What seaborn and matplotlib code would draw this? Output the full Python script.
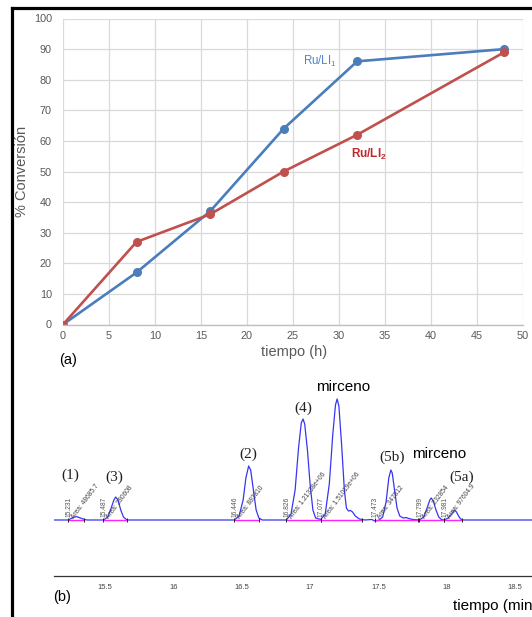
import matplotlib
matplotlib.use("Agg")
import matplotlib.pyplot as plt
import seaborn as sns
import pandas as pd
from matplotlib.lines import Line2D

# ---------------- data: panel (a) ----------------
tiempo_h = [0, 8, 16, 24, 32, 48]
conv_ru_li1 = [0, 17, 37, 64, 86, 90]
conv_ru_li2 = [0, 27, 36, 50, 62, 89]
series_names = ["Ru/LI1", "Ru/LI2"]
x_ticks_a = [0, 5, 10, 15, 20, 25, 30, 35, 40, 45, 50]
y_ticks_a = [0, 10, 20, 30, 40, 50, 60, 70, 80, 90, 100]

# ---------------- data: panel (b) chromatogram trace ----------------
crom_t = [15.127, 15.23, 15.26, 15.29, 15.32, 15.35, 15.37,
          15.49, 15.52, 15.545, 15.565, 15.578, 15.595, 15.615, 15.635, 15.66,
          16.446, 16.48, 16.51, 16.53, 16.55, 16.565, 16.585, 16.605, 16.625, 16.65,
          16.826, 16.86, 16.89, 16.915, 16.935, 16.948, 16.96, 16.98, 17.0, 17.02, 17.04, 17.077,
          17.11, 17.14, 17.165, 17.185, 17.197, 17.21, 17.23, 17.25, 17.265, 17.28, 17.295, 17.31, 17.33, 17.36, 17.40,
          17.45, 17.473, 17.50, 17.53, 17.555, 17.575, 17.59, 17.60, 17.615, 17.635, 17.655, 17.68, 17.70, 17.72, 17.75, 17.80,
          17.83, 17.855, 17.875, 17.885, 17.90, 17.92, 17.94, 17.96, 17.98,
          18.01, 18.035, 18.055, 18.07, 18.085, 18.10, 18.12, 18.622]
crom_s = [0, 0, 2, 3.5, 2, 0.5, 0,
          0, 3, 12, 20, 23, 20, 10, 3, 0,
          0, 4, 20, 42, 54, 50, 30, 10, 2, 0,
          0, 6, 30, 72, 97, 101, 96, 70, 35, 10, 2, 0.5,
          6, 36, 85, 115, 121, 114, 75, 30, 12, 9, 9.5, 8, 4, 1, 0,
          0.5, -1, -0.5, 3, 18, 42, 50, 47, 32, 12, 4, 2, 2.5, 1.5, 0.5, 0,
          3, 12, 20, 22, 19, 10, 3, 0.5, 0,
          2, 6, 10, 8, 4, 1, 0, 0]

integ_start = [15.231, 15.487, 16.446, 16.826, 17.077, 17.473, 17.799, 17.981]
integ_end = [15.35, 15.66, 16.625, 17.077, 17.38, 17.79, 17.981, 18.11]
rt_labels = ["15.231", "15.487", "16.446", "16.826", "17.077", "17.473", "17.799", "17.981"]
area_labels = ["Area: 48685.7", "Area: 280608", "Area: 883810", "Area: 1.21338e+06",
               "Area: 1.51019e+06", "Area: 347812", "Area: 232854", "Area: 97604.9"]

peak_names = ["(1)", "(3)", "(2)", "(4)", "mirceno", "(5b)", "mirceno", "(5a)"]
peak_name_t = [15.244, 15.569, 16.545, 16.947, 17.24, 17.598, 17.945, 18.11]
peak_name_s = [45, 43, 66, 112, 133, 63, 66, 43]
x_ticks_b = [15.5, 16, 16.5, 17, 17.5, 18, 18.5]
x_ticklabels_b = ["15.5", "16", "16.5", "17", "17.5", "18", "18.5"]

# ---------------- style ----------------
sns.set_style("white")
plt.rcParams["font.family"] = ["Liberation Sans", "DejaVu Sans"]
plt.rcParams["mathtext.fontset"] = "custom"
plt.rcParams["mathtext.rm"] = "Liberation Sans"
plt.rcParams["mathtext.bf"] = "Liberation Sans:bold"

W, H = 532, 617
fig = plt.figure(figsize=(W / 100, H / 100), dpi=100)
fig.patch.set_facecolor("white")

# ---------------- panel (a) ----------------
ax_a = fig.add_axes([63 / W, 1 - 324.5 / H, (522.7 - 63) / W, (324.5 - 18.5) / H])
df = pd.DataFrame({
    "tiempo": tiempo_h * 2,
    "conv": conv_ru_li1 + conv_ru_li2,
    "serie": [series_names[0]] * len(tiempo_h) + [series_names[1]] * len(tiempo_h),
})
pal = {series_names[0]: "#4A7EBB", series_names[1]: "#C0504D"}
sns.lineplot(data=df, x="tiempo", y="conv", hue="serie", palette=pal, marker="o",
             markersize=6.5, markeredgewidth=0, linewidth=1.9, legend=False, ax=ax_a,
             estimator=None, sort=False)
ax_a.set_xlim(0, 50)
ax_a.set_ylim(0, 100)
ax_a.set_xticks(x_ticks_a)
ax_a.set_yticks(y_ticks_a)
ax_a.grid(True, color="#D9D9D9", linewidth=0.9)
ax_a.set_axisbelow(True)
for s in ["left", "right", "top"]:
    ax_a.spines[s].set_visible(False)
ax_a.spines["bottom"].set_color("#BFBFBF")
ax_a.spines["bottom"].set_linewidth(1.0)
ax_a.tick_params(axis="both", length=0, labelsize=7.8, labelcolor="#595959")
ax_a.tick_params(axis="y", pad=8)
ax_a.tick_params(axis="x", pad=4.5)
ax_a.set_xlabel("")
ax_a.set_ylabel("")
ax_a.text((22 - 63) / 460, 0.5, "% Conversión", transform=ax_a.transAxes, rotation=90,
          ha="center", va="center", fontsize=10.5, color="#595959")
ax_a.text(0.502, -0.089, "tiempo (h)", transform=ax_a.transAxes, ha="center", va="center",
          fontsize=10.5, color="#595959")
ax_a.text(27.9, 86, r"Ru/LI$_1$", ha="center", va="center", fontsize=8.3, color="#4A86C8")
ax_a.text(33.3, 55.6, r"Ru/LI$_\mathbf{2}$", ha="center", va="center", fontsize=8.5,
          color="#C0282D", fontweight="bold")
fig.text(68 / W, 1 - 359.5 / H, "(a)", ha="center", va="center", fontsize=10.5, color="black")

# ---------------- panel (b) ----------------
ax_b = fig.add_axes([54 / W, 1 - 576 / H, (W - 54) / W, (576 - 370) / H])
sns.lineplot(x=crom_t, y=crom_s, ax=ax_b, color="#3636F2", linewidth=0.9,
             estimator=None, sort=False)
for t0, t1 in zip(integ_start, integ_end):
    ax_b.plot([t0, t1], [0.3, 0.3], color="#FF22FF", linewidth=1.0, zorder=3)
    ax_b.plot([t0, t1], [0.3, 0.3], linestyle="none", marker="|", markersize=3,
              color="#222222", markeredgewidth=0.7, zorder=4)
for t0, rt, ar in zip(integ_start, rt_labels, area_labels):
    ax_b.text(t0 + 0.004, 3, rt, rotation=90, rotation_mode="anchor", ha="left", va="center",
              fontsize=4.8, color="#555555")
    ax_b.text(t0 + 0.03, 1.5, ar, rotation=53, rotation_mode="anchor", ha="left", va="center",
              fontsize=4.8, color="#444444")
for nm, t, s in zip(peak_names, peak_name_t, peak_name_s):
    if nm == "mirceno":
        ax_b.text(t, s, nm, ha="center", va="center", fontsize=11, color="black")
    else:
        ax_b.text(t, s, nm, ha="center", va="center", fontsize=11, color="#222222",
                  family=["Liberation Serif", "DejaVu Serif"])
ax_b.set_xlim(15.127, 18.622)
ax_b.set_ylim(-56, 150)
for s in ["left", "right", "top"]:
    ax_b.spines[s].set_visible(False)
ax_b.spines["bottom"].set_color("#333333")
ax_b.spines["bottom"].set_linewidth(0.9)
ax_b.set_yticks([])
ax_b.set_xticks(x_ticks_b)
ax_b.set_xticklabels(x_ticklabels_b)
ax_b.set_xticks([15.2, 15.3, 15.4, 15.6, 15.7, 15.8, 15.9, 16.1, 16.2, 16.3, 16.4,
                 16.6, 16.7, 16.8, 16.9, 17.1, 17.2, 17.3, 17.4, 17.6, 17.7, 17.8, 17.9,
                 18.1, 18.2, 18.3, 18.4, 18.6], minor=True)
ax_b.tick_params(axis="x", which="major", direction="out", length=4, width=0.8,
                 color="#333333", labelsize=5.5, labelcolor="#444444", pad=2)
ax_b.tick_params(axis="x", which="minor", direction="out", length=2.2, width=0.7,
                 color="#333333")
ax_b.set_xlabel("")
ax_b.set_ylabel("")
ax_b.patch.set_alpha(0)
fig.text(62.5 / W, 1 - 597.5 / H, "(b)", ha="center", va="center", fontsize=10.5, color="black")
fig.text(453 / W, 1 - 606 / H, "tiempo (min)", ha="left", va="center", fontsize=11, color="black")

# ---------------- black frame (left and top) ----------------
fig.add_artist(Line2D([12 / W, 12 / W], [-0.01, 1 - 8 / H], transform=fig.transFigure,
                      color="black", linewidth=2.3, solid_capstyle="projecting"))
fig.add_artist(Line2D([12 / W, 1.01], [1 - 8 / H, 1 - 8 / H], transform=fig.transFigure,
                      color="black", linewidth=2.3, solid_capstyle="projecting"))

fig.savefig("out.png", dpi=100, facecolor="white")
